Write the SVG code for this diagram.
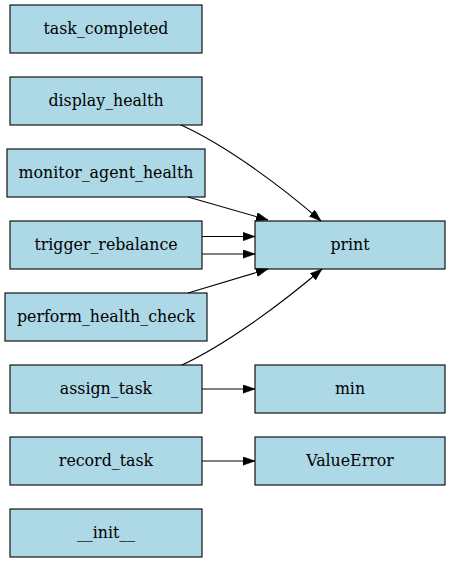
<svg xmlns="http://www.w3.org/2000/svg" width="452" height="563" viewBox="0 0 452 563">
<style>
.n rect{fill:#add8e6;stroke:#000;stroke-width:1.1}
.n text{font-family:"DejaVu Serif",serif;font-size:15.8px;text-anchor:middle;fill:#000}
.e path{fill:none;stroke:#000;stroke-width:1.1;marker-end:url(#ah)}
</style>
<defs>
<marker id="ah" markerUnits="userSpaceOnUse" markerWidth="13" markerHeight="10" refX="12" refY="4.25" orient="auto">
<path d="M0,0 L12,4.25 L0,8.5 z" fill="#000" stroke="#000" stroke-width="0.5"/>
</marker>
</defs>
<rect width="452" height="563" fill="#fff"/>
<g id="task_completed" class="n"><rect x="10" y="5" width="192" height="48"/><text x="106" y="34">task_completed</text></g>
<g id="display_health" class="n"><rect x="10" y="77" width="192" height="48"/><text x="106" y="106">display_health</text></g>
<g id="monitor_agent_health" class="n"><rect x="7" y="149" width="198" height="48"/><text x="106" y="178">monitor_agent_health</text></g>
<g id="trigger_rebalance" class="n"><rect x="10" y="221" width="192" height="48"/><text x="106" y="250">trigger_rebalance</text></g>
<g id="perform_health_check" class="n"><rect x="5" y="293" width="202" height="48"/><text x="106" y="322">perform_health_check</text></g>
<g id="assign_task" class="n"><rect x="10" y="365" width="192" height="48"/><text x="106" y="394">assign_task</text></g>
<g id="record_task" class="n"><rect x="10" y="437" width="192" height="48"/><text x="106" y="466">record_task</text></g>
<g id="__init__" class="n"><rect x="10" y="509" width="192" height="48"/><text x="106" y="538">__init__</text></g>
<g id="print" class="n"><rect x="255" y="221" width="190" height="48"/><text x="350" y="250">print</text></g>
<g id="min" class="n"><rect x="255" y="365" width="190" height="48"/><text x="350" y="394">min</text></g>
<g id="ValueError" class="n"><rect x="255" y="437" width="190" height="48"/><text x="350" y="466">ValueError</text></g>
<g id="edges" class="e">
<path d="M181,125 C225,145 280,185 321,221"/>
<path d="M188,197 L268,220"/>
<path d="M202,236.5 L255,236.5"/>
<path d="M202,254 L255,254"/>
<path d="M188,293 L268,269"/>
<path d="M182,365 C225,345 280,305 322,269"/>
<path d="M202,389 L255,389"/>
<path d="M202,461 L255,461"/>
</g>
</svg>
